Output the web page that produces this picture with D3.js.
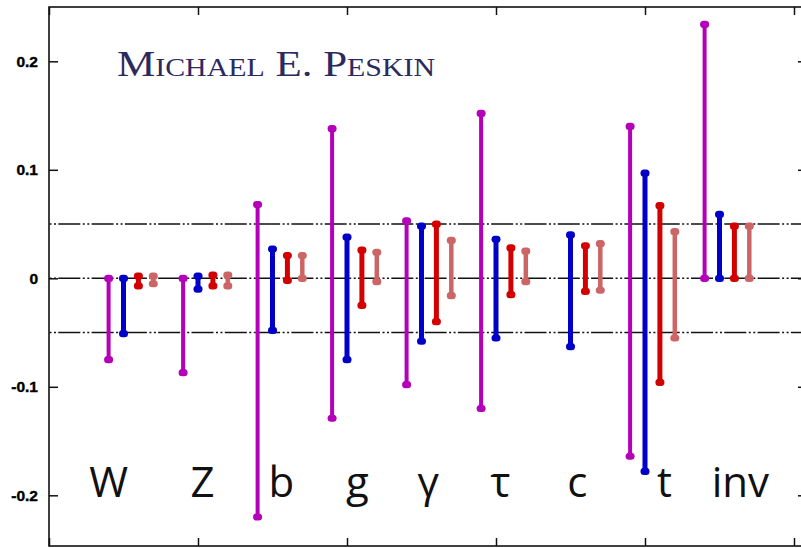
<!DOCTYPE html>
<html><head><meta charset="utf-8">
<script src="https://cdn.jsdelivr.net/npm/d3@7"></script>
<style>html,body{margin:0;padding:0;background:#fff;}svg{display:block;}</style>
</head><body>
<div id="chart"></div>
<script>
// ---- data ----
const categories = ["W", "Z", "b", "g", "\u03b3", "\u03c4", "c", "t", "inv"];
const labelX     = [0.40, 1.03, 1.56, 2.07, 2.545, 3.03, 3.545, 4.13, 4.64];
const yTicks     = [-0.2, -0.1, 0, 0.1, 0.2];
const yTickLabels = ["-0.2", "-0.1", "0", "0.1", "0.2"];
const xTicks     = [0, 1, 2, 3, 4, 5];
const refLines   = [-0.05, 0, 0.05];

const magentaLo = [-0.075, -0.087, -0.220, -0.129, -0.098, -0.120, null, -0.164, 0];
const magentaHi = [0, 0, 0.068, 0.138, 0.053, 0.152, null, 0.140, 0.234];
const blueLo    = [-0.051, -0.010, -0.048, -0.075, -0.058, -0.055, -0.063, -0.178, 0];
const blueHi    = [0, 0.002, 0.027, 0.038, 0.048, 0.036, 0.040, 0.097, 0.059];
const redLo     = [-0.007, -0.007, -0.002, -0.025, -0.040, -0.015, -0.012, -0.096, 0];
const redHi     = [0.002, 0.003, 0.021, 0.026, 0.050, 0.028, 0.030, 0.067, 0.048];
const salmonLo  = [-0.005, -0.007, 0, -0.003, -0.016, -0.003, -0.011, -0.055, 0];
const salmonHi  = [0.002, 0.003, 0.021, 0.024, 0.035, 0.025, 0.032, 0.043, 0.048];

const seriesList = [
  {lo: magentaLo, hi: magentaHi, color: "#b400b8", w: 4},
  {lo: blueLo,    hi: blueHi,    color: "#0000c8", w: 5},
  {lo: redLo,     hi: redHi,     color: "#d20000", w: 5},
  {lo: salmonLo,  hi: salmonHi,  color: "#cc6666", w: 4.5}
];
const groupStart = 0.4, groupStep = 0.5, seriesStep = 0.1;

// ---- layout ----
const W = 801, H = 548;
const L = 49, R = 807, T = 7, B = 546;
const svg = d3.select("#chart").append("svg").attr("width", W).attr("height", H);
const x = d3.scaleLinear().domain([0, 5]).range([49, 794]);
const y = d3.scaleLinear().domain([-0.2, 0.2]).range([495.3, 61.3]);

// reference dash-dot-dot lines
svg.append("g").selectAll("line").data(refLines).join("line")
  .attr("x1", L).attr("x2", R).attr("y1", d => y(d)).attr("y2", d => y(d))
  .attr("stroke", "#111").attr("stroke-width", 1.5)
  .attr("stroke-dasharray", "22,2.5,2,2.5,2,2.3").attr("stroke-dashoffset", 24);

// frame
svg.append("rect").attr("x", L).attr("y", T).attr("width", R - L).attr("height", B - T)
  .attr("fill", "none").attr("stroke", "#111").attr("stroke-width", 1.6);

// axes
const fmt = d => yTickLabels[yTicks.indexOf(d)];
const gl = svg.append("g").attr("transform", `translate(${L},0)`)
  .call(d3.axisLeft(y).tickValues(yTicks).tickSize(-9).tickPadding(11).tickFormat(fmt));
gl.select(".domain").remove();
gl.selectAll("line").attr("stroke", "#111").attr("stroke-width", 1.5);
gl.selectAll("text").attr("font-family", "Liberation Sans, Arial, sans-serif")
  .attr("font-weight", "bold").attr("font-size", 15.5).attr("fill", "#000")
  .attr("stroke", "#000").attr("stroke-width", 0.4);

const gr = svg.append("g").attr("transform", `translate(${R},0)`)
  .call(d3.axisRight(y).tickValues(yTicks).tickSize(-9).tickFormat(""));
gr.select(".domain").remove();
gr.selectAll("line").attr("stroke", "#111").attr("stroke-width", 1.5);

const gt = svg.append("g").attr("transform", `translate(0,${T})`)
  .call(d3.axisTop(x).tickValues(xTicks).tickSize(-8).tickFormat(""));
gt.select(".domain").remove();
gt.selectAll("line").attr("stroke", "#111").attr("stroke-width", 1.5);

const gb = svg.append("g").attr("transform", `translate(0,${B})`)
  .call(d3.axisBottom(x).tickValues(xTicks).tickSize(-8).tickFormat(""));
gb.select(".domain").remove();
gb.selectAll("line").attr("stroke", "#111").attr("stroke-width", 1.5);

// error bars
seriesList.forEach((s, j) => {
  const rows = categories.map((c, i) => ({i, lo: s.lo[i], hi: s.hi[i]})).filter(d => d.lo !== null);
  const g = svg.append("g");
  const xp = d => x(groupStart + d.i * groupStep + j * seriesStep);
  g.selectAll("line").data(rows).join("line")
    .attr("x1", xp).attr("x2", xp).attr("y1", d => y(d.lo)).attr("y2", d => y(d.hi))
    .attr("stroke", s.color).attr("stroke-width", s.w);
  const ends = rows.flatMap(d => [{i: d.i, v: d.lo}, {i: d.i, v: d.hi}]);
  g.selectAll("rect").data(ends).join("rect")
    .attr("x", d => xp(d) - 4.5).attr("y", d => y(d.v) - 3.6)
    .attr("width", 9).attr("height", 7.2).attr("rx", 3.5)
    .attr("fill", s.color);
});

// category labels
svg.append("g").selectAll("text").data(categories).join("text")
  .attr("x", (d, i) => x(labelX[i])).attr("y", 497)
  .attr("text-anchor", "middle")
  .attr("font-family", "Open Sans, sans-serif").attr("font-size", 42)
  .attr("fill", "#111").text(d => d);

// title
const title = svg.append("text").attr("x", 117).attr("y", 76)
  .attr("font-family", "Liberation Serif, serif").attr("fill", "#2b2a5e")
  .attr("textLength", 318).attr("lengthAdjust", "spacingAndGlyphs");
[["M", 36], ["ICHAEL", 25], [" E. ", 36], ["P", 36], ["ESKIN", 25]].forEach(([t, s]) => {
  title.append("tspan").attr("font-size", s).text(t);
});
</script>
</body></html>
